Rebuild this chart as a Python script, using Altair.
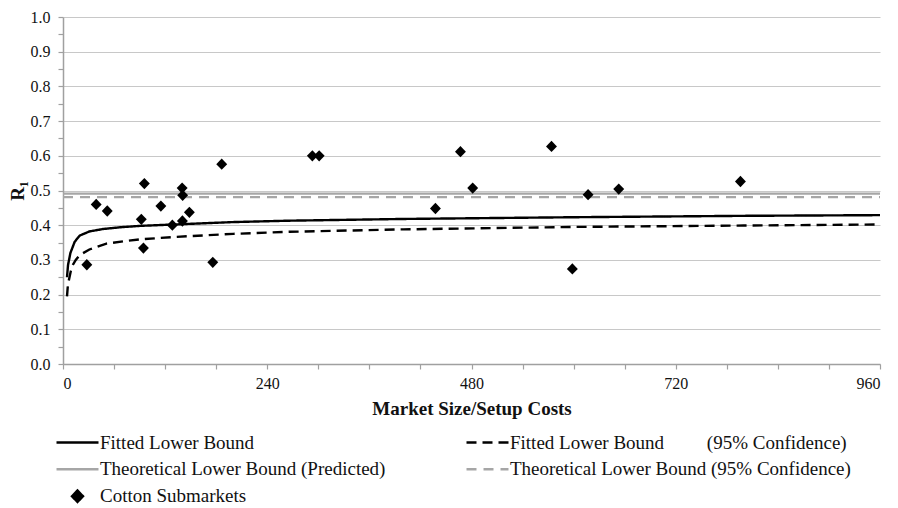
import altair as alt
import pandas as pd

# ---- data ----
S_FIT = "Fitted Lower Bound"
S_FIT95 = "Fitted Lower Bound" + "\u00a0" * 9 + "(95% Confidence)"
S_TPRED = "Theoretical Lower Bound (Predicted)"
S_T95 = "Theoretical Lower Bound (95% Confidence)"
S_COT = "Cotton Submarkets"
# legend fills column by column (3 rows x 2 columns)
series_names = [S_FIT, S_TPRED, S_COT, S_FIT95, S_T95]
series_colors = ["#000000", "#a6a6a6", "#000000", "#000000", "#a6a6a6"]
series_dashes = [[1, 0], [1, 0], [1, 0], [10, 6], [10, 7]]
DIAMOND = "M-0.26,0L0,-0.27L0.26,0L0,0.27Z"
series_shapes = ["stroke", "stroke", DIAMOND, "stroke", "stroke"]

fit_x = [4.7, 5.9, 8.7, 13.7, 19.6, 31, 47, 67, 90, 130, 200, 266, 400, 600, 800, 960]
fit_y = [0.25, 0.285, 0.32, 0.352, 0.37, 0.382, 0.389, 0.394, 0.398, 0.402, 0.409, 0.413,
         0.418, 0.423, 0.427, 0.429]

fit95_x = [4.7, 5.5, 7, 9, 11.7, 15, 19.6, 31, 51, 75, 90, 130, 200, 266, 400, 600, 800, 960]
fit95_y = [0.195, 0.22, 0.243, 0.266, 0.286, 0.30, 0.314, 0.33, 0.347, 0.355, 0.359, 0.366,
           0.375, 0.381, 0.388, 0.395, 0.399, 0.402]

theo_x = [0, 960]
theo_pred = 0.491
theo_95 = 0.481

cotton_x = [28, 39, 52, 92, 94.5, 95.6, 115, 128.5, 140, 140.6, 140.3, 148.5, 176, 186.5,
            293, 301, 437.6, 467, 481.4, 574, 598.5, 617, 653, 796]
cotton_y = [0.286, 0.46, 0.441, 0.417, 0.334, 0.52, 0.455, 0.40, 0.507, 0.486, 0.412, 0.437,
            0.293, 0.576, 0.600, 0.600, 0.448, 0.612, 0.507, 0.627, 0.274, 0.488, 0.504, 0.526]

x_ticks = list(range(0, 961, 60))
y_ticks = [round(i * 0.05, 2) for i in range(21)]

# ---- tables ----
rows = []
for x, y in zip(fit_x, fit_y):
    rows.append({"x": x, "y": y, "series": S_FIT})
for x, y in zip(fit95_x, fit95_y):
    rows.append({"x": x, "y": y, "series": S_FIT95})
for x in theo_x:
    rows.append({"x": x, "y": theo_pred, "series": S_TPRED})
for x in theo_x:
    rows.append({"x": x, "y": theo_95, "series": S_T95})
lines_df = pd.DataFrame(rows)
pts_df = pd.DataFrame({"x": cotton_x, "y": cotton_y, "series": S_COT})

SYM = 1764  # legend symbol length 42 px

legend = alt.Legend(
    title=None, orient="none", legendX=-8, legendY=412, columns=2,
    columnPadding=79, rowPadding=0, clipHeight=26.5, labelLimit=500, labelFontSize=19,
    labelFont="Liberation Serif", labelColor="#111", labelOffset=0,
    symbolStrokeWidth=2.5, symbolOffset=0, symbolSize=SYM,
)

color_scale = alt.Scale(domain=series_names, range=series_colors)
dash_scale = alt.Scale(domain=series_names, range=series_dashes)
shape_scale = alt.Scale(domain=series_names, range=series_shapes)

x_enc = alt.X("x:Q", scale=alt.Scale(domain=[0, 960], nice=False),
              axis=alt.Axis(values=x_ticks, grid=False,
                            labelExpr="datum.value % 240 == 0 ? datum.label : ''",
                            title="Market Size/Setup Costs", tickSize=5,
                            labelPadding=6, titlePadding=8))
y_enc = alt.Y("y:Q", scale=alt.Scale(domain=[0, 1], nice=False),
              axis=alt.Axis(values=y_ticks, format=".1f",
                            labelExpr="abs(datum.value*10 - round(datum.value*10)) < 0.001 ? format(datum.value, '.1f') : ''",
                            gridOpacity={"condition": {"test": "abs(datum.value*10 - round(datum.value*10)) < 0.001", "value": 1}, "value": 0},
                            title="R\u2081", tickSize=5, labelPadding=8, titlePadding=3))

lines = alt.Chart(lines_df).mark_line(strokeWidth=2.4).encode(
    x=x_enc, y=y_enc,
    color=alt.Color("series:N", scale=color_scale, legend=legend),
    strokeDash=alt.StrokeDash("series:N", scale=dash_scale, legend=legend),
)

points = alt.Chart(pts_df).mark_point(filled=True, opacity=1, size=SYM).encode(
    x=x_enc, y=y_enc,
    color=alt.Color("series:N", scale=color_scale, legend=legend),
    shape=alt.Shape("series:N", scale=shape_scale, legend=legend),
)

chart = alt.layer(lines, points).properties(
    width=817, height=347,
    autosize=alt.AutoSizeParams(type="none"),
    padding={"left": 55, "top": 9, "right": 10, "bottom": 140},
).configure(font="Liberation Serif").configure_view(stroke=None).configure_axis(
    labelFont="Liberation Serif", labelFontSize=16, labelColor="#111",
    titleFont="Liberation Serif", titleFontSize=19, titleFontWeight="bold", titleColor="#111",
    domainColor="#a0a0a0", domainWidth=1.5, tickColor="#a0a0a0", tickWidth=1.2,
    gridColor="#c8c8c8", gridWidth=1.2,
)

chart.save("out.html", embed_options={"renderer": "svg", "actions": False})
